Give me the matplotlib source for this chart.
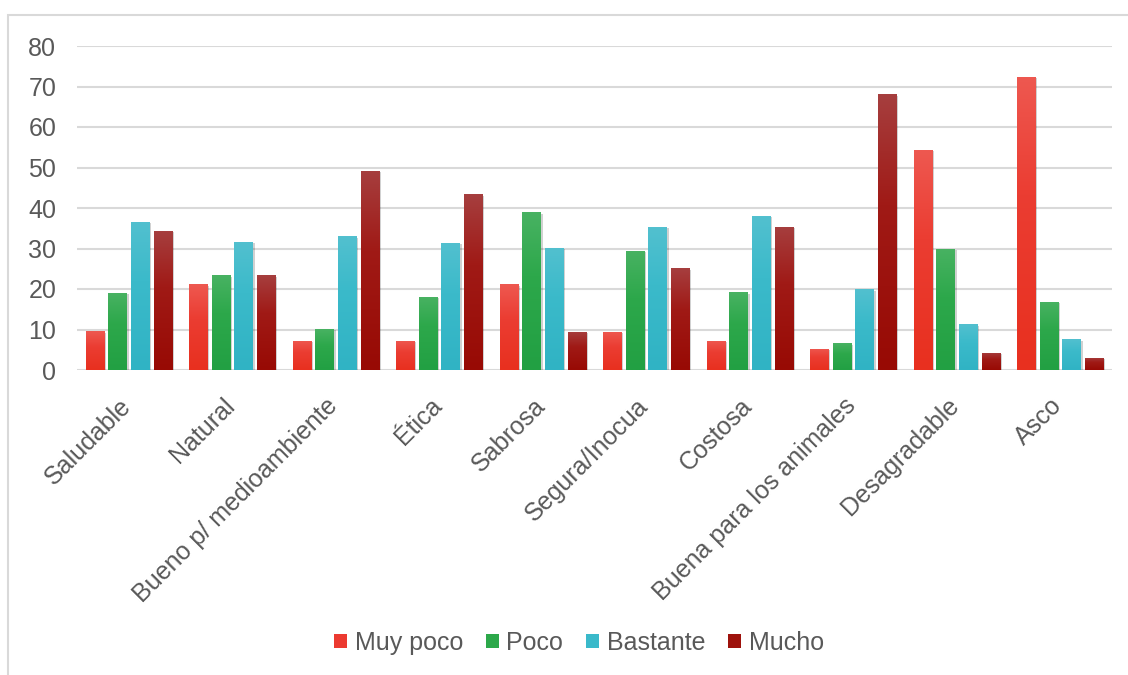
import matplotlib
matplotlib.use("Agg")
import matplotlib.pyplot as plt
import matplotlib.patheffects as pe
import matplotlib.transforms as mtrans
from matplotlib.patches import Rectangle, Patch
from matplotlib.colors import LinearSegmentedColormap
import numpy as np

categories = ["Saludable", "Natural", "Bueno p/ medioambiente", "Ética", "Sabrosa",
              "Segura/Inocua", "Costosa", "Buena para los animales", "Desagradable", "Asco"]
series_names = ["Muy poco", "Poco", "Bastante", "Mucho"]
muy_poco = [9.6, 21.2, 7.2, 7.2, 21.2, 9.5, 7.2, 5.3, 54.3, 72.4]
poco = [19.1, 23.4, 10.1, 18.1, 38.9, 29.4, 19.2, 6.6, 30.0, 16.9]
bastante = [36.6, 31.7, 33.0, 31.4, 30.2, 35.3, 38.0, 19.9, 11.3, 7.6]
mucho = [34.3, 23.4, 49.2, 43.4, 9.5, 25.1, 35.4, 68.1, 4.3, 3.0]
yticks = [0, 10, 20, 30, 40, 50, 60, 70, 80]

series = [muy_poco, poco, bastante, mucho]
base_colors = ["#EC3A30", "#2CA84A", "#3AB9CA", "#9E120C"]
top_colors = ["#EE5850", "#48B262", "#52C0CF", "#A63E3E"]
mid_colors = ["#EB3D32", "#2DA84B", "#3BBACA", "#A01A16"]
bot_colors = ["#E8301F", "#22A043", "#30B3C4", "#980A04"]

plt.rcParams['font.family'] = ['Liberation Sans', 'DejaVu Sans']
txt = "#595959"
fs = 18

fig = plt.figure(figsize=(11.28, 6.75), dpi=100)
fig.patches.append(Rectangle((8/1128, -0.2), 1.2, 1.2 - 15/675, transform=fig.transFigure,
                             fill=False, edgecolor="#D9D9D9", linewidth=1.5, zorder=0))
ax = fig.add_axes([77/1128, 1 - 370/675, (1112 - 77)/1128, (370 - 46)/675])

x = np.arange(len(categories))
pitch = 0.219
width = 0.177
offsets = (np.arange(4) - 1.5) * pitch

for i, (vals, name) in enumerate(zip(series, series_names)):
    bars = ax.bar(x + offsets[i], vals, width, color=base_colors[i], zorder=3,
                  path_effects=[pe.SimplePatchShadow(offset=(1.5, -1), shadow_rgbFace="#000000", alpha=0.18),
                                pe.Normal()])
    cmap = LinearSegmentedColormap.from_list("g%d" % i, [(0, bot_colors[i]), (0.6, mid_colors[i]), (1, top_colors[i])])
    grad = np.linspace(1, 0, 100).reshape(-1, 1)
    for b in bars:
        bx, by = b.get_x(), b.get_y()
        bw, bh = b.get_width(), b.get_height()
        im = ax.imshow(grad, cmap=cmap, extent=[bx, bx + bw, by, by + bh], aspect="auto",
                       zorder=3.5, interpolation="bilinear")
        im.set_clip_path(b)

ax.set_xlim(-0.5, len(categories) - 0.5)
ax.set_ylim(0, 80)
ax.set_yticks(yticks)
ax.set_xticks(x)
ax.set_xticklabels(categories, rotation=45, ha="right", rotation_mode="anchor")
ax.tick_params(axis="both", length=0, labelsize=fs, labelcolor=txt)
ax.tick_params(axis="y", pad=15)
ax.tick_params(axis="x", pad=12)
off = mtrans.ScaledTranslation(-10/100, -7/100, fig.dpi_scale_trans)
for lab in ax.get_xticklabels():
    lab.set_transform(lab.get_transform() + off)
ax.grid(axis="y", color="#D9D9D9", linewidth=1.5, zorder=0)
ax.set_axisbelow(True)
for s in ax.spines.values():
    s.set_visible(False)

handles = [Patch(facecolor=c, edgecolor="none", label=n) for c, n in zip(base_colors, series_names)]
leg = fig.legend(handles=handles, loc="center", bbox_to_anchor=(579/1128, 1 - 643/675), ncol=4, frameon=False,
                 fontsize=fs, handlelength=0.52, handleheight=0.52, handletextpad=0.3,
                 columnspacing=0.92)
for t in leg.get_texts():
    t.set_color(txt)

fig.savefig("out.png", dpi=100)
